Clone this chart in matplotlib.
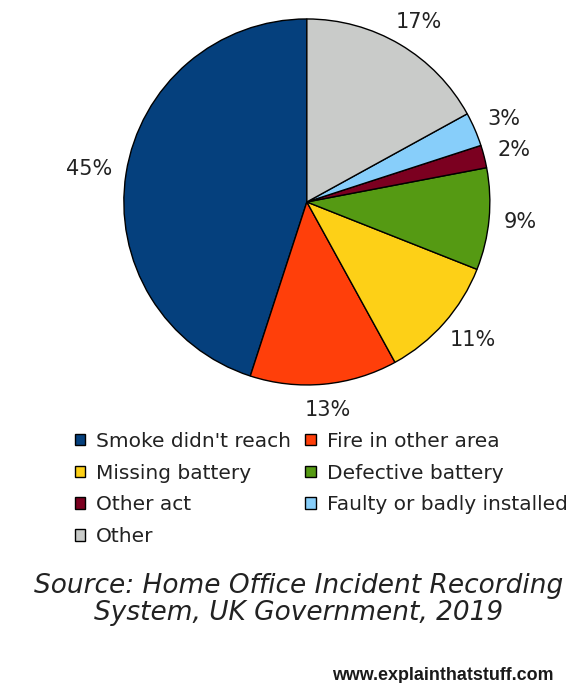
import numpy as np
import matplotlib
matplotlib.use('Agg')
import matplotlib.pyplot as plt

# Datos: causas por las que no sonó la alarma de humo
causas = ["Smoke didn't reach", "Fire in other area", "Missing battery",
          "Defective battery", "Other act", "Faulty or badly installed", "Other"]
porcentajes = [45, 13, 11, 9, 2, 3, 17]
colores = ['#05407d', '#ff3f0a', '#fdd017', '#559a13', '#7b0020', '#87cefa', '#c9cbc9']

fig = plt.figure(figsize=(5.87, 6.83), dpi=100)
ax = fig.add_axes([0.211, 0.4363, 0.6235, 0.536])

cunas, _ = ax.pie(porcentajes, colors=colores, startangle=90, counterclock=True,
                  wedgeprops=dict(edgecolor='black', linewidth=1.0))
ax.set_xlim(-1, 1)
ax.set_ylim(-1, 1)
ax.set_aspect('equal')

# Etiquetas de porcentaje: el borde del texto queda a la misma distancia del pie
tam = 15
for cuna, p in zip(cunas, porcentajes):
    ang = np.deg2rad((cuna.theta1 + cuna.theta2) / 2)
    etiqueta = f'{p}%'
    ancho = (0.636 * (len(etiqueta) - 1) + 0.95) * tam * 100 / 72
    dx = np.cos(ang) * ancho / 2
    dy = np.sin(ang) * 0.55 * tam * 100 / 72
    ax.annotate(etiqueta, xy=(1.08 * np.cos(ang), 1.08 * np.sin(ang)),
                xytext=(dx, dy), textcoords='offset pixels',
                ha='center', va='center', fontsize=tam, color='#222222',
                annotation_clip=False)

# Leyenda en dos columnas, leida por filas
orden = [0, 2, 4, 6, 1, 3, 5]
leg = fig.legend([cunas[i] for i in orden], [causas[i] for i in orden],
                 ncol=2, loc='upper left', bbox_to_anchor=(0.127, 0.368),
                 frameon=False, fontsize=14.5, handlelength=0.52, handleheight=0.52,
                 handletextpad=0.55, columnspacing=0.7, labelspacing=0.64,
                 borderpad=0, borderaxespad=0)
for txt in leg.get_texts():
    txt.set_color('#222222')

fig.text(0.508, 0.122, 'Source: Home Office Incident Recording\nSystem, UK Government, 2019',
         ha='center', va='center', fontsize=19, style='italic', color='#222222',
         linespacing=1.08)
fig.text(0.5656, 0.0117, 'www.explainthatstuff.com', ha='left', va='center',
         fontsize=12.9, family='Liberation Sans', weight='bold', color='#1a1a1a')

fig.savefig('out.png', dpi=100)
